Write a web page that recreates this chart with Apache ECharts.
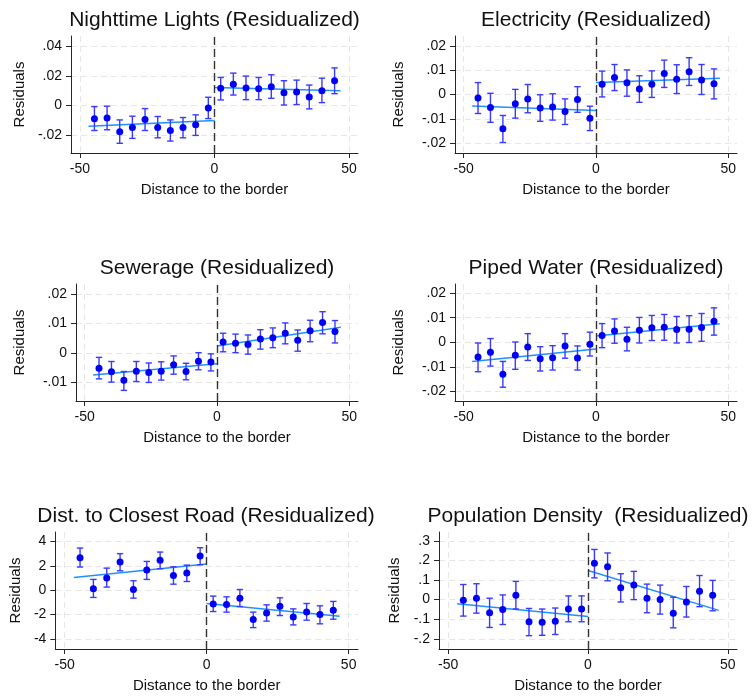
<!DOCTYPE html>
<html>
<head>
<meta charset="utf-8">
<title>RD plots (Residualized)</title>
<script src="https://cdn.jsdelivr.net/npm/echarts@6/dist/echarts.min.js"></script>
<style>
  html, body { margin: 0; padding: 0; background: #fff; }
  body { width: 753px; height: 696px; overflow: hidden; position: relative; }
  .panel { position: absolute; height: 248px; overflow: hidden; }
</style>
</head>
<body>
<div class="panel" id="p0" style="left:0;top:0;width:376px"></div>
<div class="panel" id="p1" style="left:376px;top:0;width:377px"></div>
<div class="panel" id="p2" style="left:0;top:248px;width:376px"></div>
<div class="panel" id="p3" style="left:376px;top:248px;width:377px"></div>
<div class="panel" id="p4" style="left:0;top:496px;width:376px"></div>
<div class="panel" id="p5" style="left:376px;top:496px;width:377px"></div>
<script>
// bin centres (distance to the border), left side then right side
const bins = [-44.6, -39.9, -35.2, -30.5, -25.8, -21.1, -16.4, -11.7, -7, -2.3,
  2.3, 7, 11.7, 16.4, 21.1, 25.8, 30.5, 35.2, 39.9, 44.6]
const xTicks = [-50, 0, 50]
// fitted lines run from fitXLeft[0] to fitXLeft[1] and fitXRight[0] to fitXRight[1]
const fitXLeft = [-46.8, 0]
const fitXRight = [0, 46.8]

// Nighttime Lights
const lightsMean = [-0.0089, -0.0084, -0.0176, -0.0147, -0.0093, -0.0147, -0.0167, -0.0147, -0.0129, -0.0016,
  0.0116, 0.0144, 0.0118, 0.0113, 0.0127, 0.0087, 0.0091, 0.0058, 0.0100, 0.0167]
const lightsHi = [-0.0007, -0.0004, -0.0096, -0.0071, -0.0020, -0.0073, -0.0096, -0.0080, -0.0062, 0.0056,
  0.0189, 0.0218, 0.0198, 0.0189, 0.0207, 0.0167, 0.0171, 0.0138, 0.0184, 0.0253]
const lightsLo = [-0.0167, -0.0162, -0.0253, -0.0220, -0.0167, -0.0216, -0.0238, -0.0216, -0.0200, -0.0087,
  0.0038, 0.0071, 0.0040, 0.0040, 0.0049, 0.0004, 0.0007, -0.0022, 0.0020, 0.0080]
const lightsFitL = [-0.0138, -0.0100]
const lightsFitR = [0.0122, 0.0100]
const lightsTicks = [-0.02, 0, 0.02, 0.04]

// Electricity
const elecMean = [-0.0014, -0.0053, -0.0141, -0.0038, -0.0018, -0.0055, -0.0051, -0.0070, -0.0021, -0.0097,
  0.0042, 0.0070, 0.0048, 0.0023, 0.0042, 0.0086, 0.0063, 0.0093, 0.0060, 0.0044]
const elecHi = [0.0049, 0.0005, -0.0086, 0.0021, 0.0041, -0.0001, 0.0003, -0.0018, 0.0032, -0.0048,
  0.0096, 0.0123, 0.0101, 0.0077, 0.0097, 0.0141, 0.0122, 0.0151, 0.0123, 0.0105]
const elecLo = [-0.0078, -0.0114, -0.0197, -0.0097, -0.0075, -0.0110, -0.0105, -0.0123, -0.0073, -0.0148,
  -0.0010, 0.0016, -0.0007, -0.0032, -0.0012, 0.0029, 0.0004, 0.0037, 0.0000, -0.0018]
const elecFitL = [-0.0047, -0.0066]
const elecFitR = [0.0049, 0.0067]
const elecTicks = [-0.02, -0.01, 0, 0.01, 0.02]

// Sewerage
const sewerMean = [-0.0052, -0.0064, -0.0093, -0.0062, -0.0066, -0.0062, -0.0040, -0.0063, -0.0028, -0.0031,
  0.0037, 0.0033, 0.0029, 0.0047, 0.0052, 0.0067, 0.0043, 0.0075, 0.0103, 0.0073]
const sewerHi = [-0.0015, -0.0029, -0.0063, -0.0029, -0.0034, -0.0030, -0.0010, -0.0035, 0.0001, -0.0003,
  0.0067, 0.0064, 0.0061, 0.0079, 0.0085, 0.0102, 0.0078, 0.0111, 0.0140, 0.0110]
const sewerLo = [-0.0088, -0.0099, -0.0127, -0.0097, -0.0100, -0.0092, -0.0072, -0.0091, -0.0057, -0.0061,
  0.0004, 0.0001, -0.0004, 0.0013, 0.0018, 0.0031, 0.0006, 0.0038, 0.0065, 0.0034]
const sewerFitL = [-0.0075, -0.0037]
const sewerFitR = [0.0024, 0.0087]
const sewerTicks = [-0.01, 0, 0.01, 0.02]

// Piped Water
const waterMean = [-0.0060, -0.0041, -0.0130, -0.0053, -0.0019, -0.0067, -0.0063, -0.0015, -0.0064, -0.0008,
  0.0027, 0.0046, 0.0012, 0.0049, 0.0059, 0.0061, 0.0052, 0.0053, 0.0060, 0.0085]
const waterHi = [-0.0003, 0.0015, -0.0078, 0.0001, 0.0035, -0.0018, -0.0014, 0.0035, -0.0015, 0.0041,
  0.0076, 0.0095, 0.0061, 0.0101, 0.0109, 0.0113, 0.0105, 0.0108, 0.0117, 0.0140]
const waterLo = [-0.0120, -0.0097, -0.0183, -0.0110, -0.0074, -0.0117, -0.0113, -0.0065, -0.0113, -0.0056,
  -0.0022, -0.0004, -0.0035, -0.0003, 0.0007, 0.0008, -0.0003, -0.0001, 0.0004, 0.0029]
const waterFitL = [-0.0078, -0.0027]
const waterFitR = [0.0025, 0.0075]
const waterTicks = [-0.02, -0.01, 0, 0.01, 0.02]

// Dist. to Closest Road
const roadMean = [2.66, 0.11, 0.99, 2.31, 0.05, 1.65, 2.45, 1.21, 1.40, 2.80,
  -1.15, -1.18, -0.66, -2.42, -1.87, -1.32, -2.20, -1.79, -2.00, -1.65]
const roadHi = [3.46, 0.88, 1.81, 3.00, 0.77, 2.36, 3.13, 1.92, 2.06, 3.49,
  -0.49, -0.55, 0.05, -1.81, -1.21, -0.63, -1.54, -1.10, -1.29, -0.93]
const roadLo = [1.90, -0.60, 0.25, 1.59, -0.66, 0.88, 1.76, 0.49, 0.71, 2.09,
  -1.76, -1.81, -1.35, -3.08, -2.55, -2.09, -2.86, -2.47, -2.77, -2.39]
const roadFitL = [1.04, 2.14]
const roadFitR = [-1.10, -2.14]
const roadTicks = [-4, -2, 0, 2, 4]

// Population Density
const popMean = [-0.003, 0.007, -0.067, -0.051, 0.022, -0.113, -0.115, -0.110, -0.048, -0.048,
  0.185, 0.168, 0.060, 0.074, 0.007, 0.000, -0.069, -0.012, 0.043, 0.022]
const popHi = [0.077, 0.081, 0.007, 0.024, 0.093, -0.045, -0.048, -0.043, 0.019, 0.019,
  0.256, 0.238, 0.132, 0.144, 0.079, 0.074, 0.012, 0.067, 0.123, 0.098]
const popLo = [-0.084, -0.069, -0.142, -0.127, -0.048, -0.184, -0.182, -0.178, -0.113, -0.113,
  0.111, 0.096, -0.012, 0.000, -0.067, -0.074, -0.144, -0.089, -0.036, -0.057]
const popFitL = [-0.021, -0.086]
const popFitR = [0.149, -0.055]
const popTicks = [-0.2, -0.1, 0, 0.1, 0.2, 0.3]

const FONT = '"Liberation Sans", Arial, sans-serif'
const DOT = '#0000f5'
const BAR = '#3a3aff'
const FIT = '#1e90ff'
const AXIS = '#262626'

// layout of each panel (Stata sizes the plot region by its tick labels)
// nameEdge: x of the right edge of the rotated "Residuals" title
const panels = [
  { id: 'p0', title: 'Nighttime Lights (Residualized)', mean: lightsMean, lo: lightsLo, hi: lightsHi,
    fitL: lightsFitL, fitR: lightsFitR, ticks: lightsTicks, ymin: -0.0318, ymax: 0.0467, left: 71, right: 18, nameEdge: 27.5 },
  { id: 'p1', title: 'Electricity (Residualized)', mean: elecMean, lo: elecLo, hi: elecHi,
    fitL: elecFitL, fitR: elecFitR, ticks: elecTicks, ymin: -0.024, ymax: 0.024, left: 79, right: 16, nameEdge: 30.5 },
  { id: 'p2', title: 'Sewerage (Residualized)', mean: sewerMean, lo: sewerLo, hi: sewerHi,
    fitL: sewerFitL, fitR: sewerFitR, ticks: sewerTicks, ymin: -0.0163, ymax: 0.0234, left: 76, right: 18, nameEdge: 27.5 },
  { id: 'p3', title: 'Piped Water (Residualized)', mean: waterMean, lo: waterLo, hi: waterHi,
    fitL: waterFitL, fitR: waterFitR, ticks: waterTicks, ymin: -0.0239, ymax: 0.0237, left: 79, right: 16, nameEdge: 30.5 },
  { id: 'p4', title: 'Dist. to Closest Road (Residualized)', mean: roadMean, lo: roadLo, hi: roadHi,
    fitL: roadFitL, fitR: roadFitR, ticks: roadTicks, ymin: -4.84, ymax: 4.78, left: 54, right: 18, nameEdge: 27.5 },
  { id: 'p5', title: 'Population Density  (Residualized)', mean: popMean, lo: popLo, hi: popHi,
    fitL: popFitL, fitR: popFitR, ticks: popTicks, ymin: -0.252, ymax: 0.345, left: 63, right: 16, nameEdge: 30.5 }
]

// Stata style labels: .02, -.01, 0
function stataLabel (v) {
  return String(v).replace(/^(-?)0\./, '$1.')
}

function renderErrorBar (params, api) {
  let x = api.value(0)
  let top = api.coord([x, api.value(2)])
  let bot = api.coord([x, api.value(1)])
  let w = 3.2
  let style = { stroke: BAR, lineWidth: 1.4 }
  return {
    type: 'group',
    children: [
      { type: 'line', shape: { x1: top[0], y1: top[1], x2: bot[0], y2: bot[1] }, style: style },
      { type: 'line', shape: { x1: top[0] - w, y1: top[1], x2: top[0] + w, y2: top[1] }, style: style },
      { type: 'line', shape: { x1: bot[0] - w, y1: bot[1], x2: bot[0] + w, y2: bot[1] }, style: style }
    ]
  }
}

function buildOption (p, width) {
  let plotW = width - p.left - p.right
  let points = bins.map((x, i) => [x, p.mean[i]])
  let bars = bins.map((x, i) => [x, p.lo[i], p.hi[i]])
  let gridLine = { show: true, lineStyle: { color: '#e6e6e6', width: 1, type: [6, 4] } }
  return {
    animation: false,
    textStyle: { fontFamily: FONT },
    title: {
      text: p.title,
      left: p.left + plotW / 2,
      top: 10,
      padding: 0,
      textAlign: 'center',
      textStyle: { fontFamily: FONT, fontSize: 21, fontWeight: 'normal', color: '#111' }
    },
    grid: { left: p.left, right: p.right, top: 36, height: 117 },
    xAxis: {
      type: 'value',
      min: -53.3,
      max: 53.3,
      name: 'Distance to the border',
      nameLocation: 'middle',
      nameGap: 29,
      nameTextStyle: { fontFamily: FONT, fontSize: 15, color: '#111' },
      axisLine: { show: true, onZero: false, lineStyle: { color: AXIS, width: 1 } },
      axisTick: { show: true, length: 5, customValues: xTicks, lineStyle: { color: AXIS } },
      axisLabel: { customValues: xTicks, fontFamily: FONT, fontSize: 14, color: '#111', margin: 9 },
      splitLine: gridLine
    },
    yAxis: {
      type: 'value',
      min: p.ymin,
      max: p.ymax,
      name: 'Residuals',
      nameLocation: 'middle',
      nameGap: p.left - p.nameEdge,
      nameTextStyle: { fontFamily: FONT, fontSize: 15, color: '#111' },
      axisLine: { show: true, onZero: false, lineStyle: { color: AXIS, width: 1 } },
      axisTick: { show: true, length: 5, customValues: p.ticks, lineStyle: { color: AXIS } },
      axisLabel: { customValues: p.ticks, fontFamily: FONT, fontSize: 14, color: '#111', margin: 9,
        formatter: stataLabel },
      splitLine: gridLine
    },
    series: [
      {
        type: 'line',
        data: [[fitXLeft[0], p.fitL[0]], [fitXLeft[1], p.fitL[1]]],
        showSymbol: false,
        lineStyle: { color: FIT, width: 1.5 },
        z: 2,
        markLine: {
          silent: true,
          symbol: 'none',
          label: { show: false },
          lineStyle: { color: '#333', width: 1.4, type: [8, 4] },
          data: [{ xAxis: 0 }]
        }
      },
      {
        type: 'line',
        data: [[fitXRight[0], p.fitR[0]], [fitXRight[1], p.fitR[1]]],
        showSymbol: false,
        lineStyle: { color: FIT, width: 1.5 },
        z: 2
      },
      {
        type: 'custom',
        renderItem: renderErrorBar,
        encode: { x: 0, y: [1, 2] },
        data: bars,
        z: 3
      },
      {
        type: 'scatter',
        data: points,
        symbolSize: 7,
        itemStyle: { color: DOT, opacity: 1 },
        z: 4
      }
    ]
  }
}

for (let p of panels) {
  let div = document.getElementById(p.id)
  let chart = echarts.init(div, null, { renderer: 'canvas' })
  chart.setOption(buildOption(p, div.clientWidth))
}
</script>
</body>
</html>
